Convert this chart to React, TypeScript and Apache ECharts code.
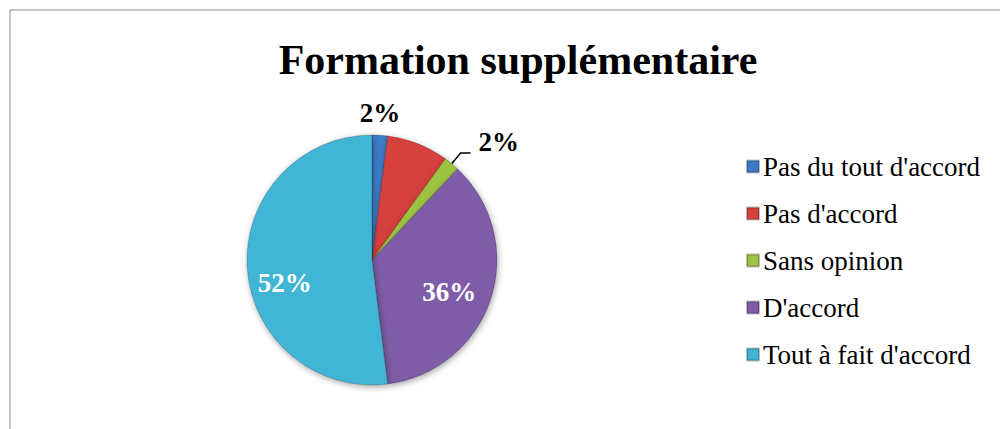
import React, { useEffect, useRef } from "react";
import * as echarts from "echarts";

const categories = [
  "Pas du tout d'accord",
  "Pas d'accord",
  "Sans opinion",
  "D'accord",
  "Tout à fait d'accord",
];
const values = [2, 8, 2, 36, 52];
const colors = ["#3D7BC9", "#D6413C", "#9CC43F", "#7F5BA8", "#3FB5D5"];
const showLabel = [true, false, true, true, true];
const labelInside = [false, false, false, true, true];

const FONT = "'Liberation Serif', 'Times New Roman', serif";

export default function App() {
  const ref = useRef<HTMLDivElement>(null);
  useEffect(() => {
    if (!ref.current) return;
    const chart = echarts.init(ref.current, undefined, { renderer: "svg" });
    const data = categories.map((name, i) => ({
      name,
      value: values[i],
      itemStyle: { color: colors[i] },
      label: {
        show: showLabel[i],
        position: labelInside[i] ? "inside" : "outside",
        color: labelInside[i] ? "#ffffff" : "#000000",
      },
      labelLine: { show: i === 2 },
    }));
    chart.setOption({
      animation: false,
      backgroundColor: "#ffffff",
      title: {
        text: "Formation supplémentaire",
        left: 513,
        textAlign: "center",
        top: 34,
        textStyle: { fontFamily: FONT, fontWeight: "bold", fontSize: 42, color: "#000" },
      },
      legend: {
        orient: "vertical",
        left: 741,
        top: 148,
        itemWidth: 12,
        itemHeight: 12,
        itemGap: 20,
        icon: "rect",
        textStyle: { fontFamily: FONT, fontSize: 27, color: "#000", padding: [0, 0, 0, -1] },
        data: categories,
      },
      graphic: [
        {
          type: "rect",
          shape: { x: 10, y: 10, width: 1000, height: 440 },
          style: { fill: "none", stroke: "#8c8c8c", lineWidth: 1 },
          silent: true,
        },
      ],
      series: [
        {
          type: "pie",
          center: [372, 260],
          radius: 125,
          startAngle: 90,
          clockwise: true,
          avoidLabelOverlap: false,
          itemStyle: {
            borderColor: "rgba(0,0,0,0.25)",
            borderWidth: 0.8,
            shadowBlur: 6,
            shadowOffsetX: 1,
            shadowOffsetY: 2,
            shadowColor: "rgba(0,0,0,0.35)",
          },
          label: {
            fontFamily: FONT,
            fontWeight: "bold",
            fontSize: 27,
            formatter: "{c}%",
          },
          labelLine: {
            length: 14,
            length2: 10,
            lineStyle: { color: "#000", width: 1.5 },
          },
          labelLayout: (params: any) => {
            const i = params.dataIndex;
            if (i === 0) return { dx: -36, dy: -8 };
            if (i === 2) return { dx: 3, dy: -11 };
            if (i === 3) return { dx: 15, dy: 12 };
            if (i === 4) return { dx: -22, dy: 19 };
            return {};
          },
          data,
        },
      ],
    });
    return () => chart.dispose();
  }, []);
  return (
    <div
      ref={ref}
      style={{ position: "absolute", left: 0, top: 0, width: 1000, height: 429 }}
    />
  );
}
